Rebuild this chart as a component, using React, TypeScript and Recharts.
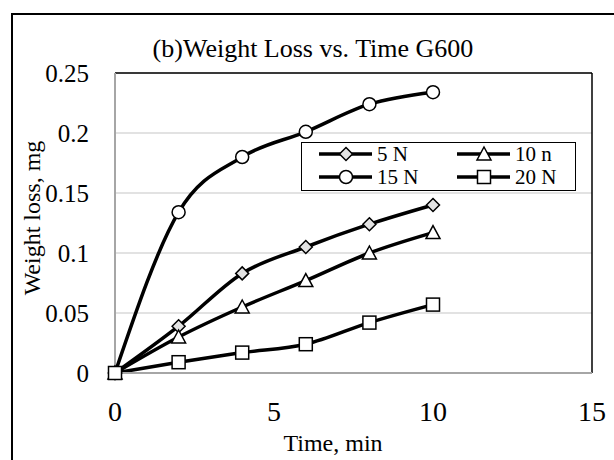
import React from "react";
import {
  LineChart,
  Line,
  XAxis,
  YAxis,
  CartesianGrid,
  Legend,
  ReferenceLine,
} from "recharts";

// time in minutes, weight loss in mg
const times = [0, 2, 4, 6, 8, 10];
const load5N = [0, 0.039, 0.083, 0.105, 0.124, 0.14];
const load10n = [0, 0.03, 0.055, 0.077, 0.1, 0.117];
const load15N = [0, 0.134, 0.18, 0.201, 0.224, 0.234];
const load20N = [0, 0.009, 0.017, 0.024, 0.042, 0.057];

const xTicks = [0, 5, 10, 15];
const yTicks = [0, 0.05, 0.1, 0.15, 0.2, 0.25];

const series = [
  { key: "n5", name: "5 N", values: load5N, marker: "diamond" },
  { key: "n10", name: "10 n", values: load10n, marker: "triangle" },
  { key: "n15", name: "15 N", values: load15N, marker: "circle" },
  { key: "n20", name: "20 N", values: load20N, marker: "square" },
];

const data = times.map((t, i) => {
  const row: Record<string, number> = { time: t };
  series.forEach((s) => {
    row[s.key] = s.values[i];
  });
  return row;
});

const FONT = "'Liberation Serif', 'Times New Roman', serif";

function Marker({ shape, cx, cy }: { shape: string; cx: number; cy: number }) {
  const st = { stroke: "#000", strokeWidth: 1.5 };
  if (shape === "diamond") {
    const r = 6.5;
    return (
      <polygon
        points={`${cx},${cy - r} ${cx + r},${cy} ${cx},${cy + r} ${cx - r},${cy}`}
        fill="#e3e3e3"
        {...st}
      />
    );
  }
  if (shape === "triangle") {
    return (
      <polygon
        points={`${cx},${cy - 7} ${cx + 7},${cy + 6} ${cx - 7},${cy + 6}`}
        fill="#fff"
        {...st}
      />
    );
  }
  if (shape === "circle") {
    return <circle cx={cx} cy={cy} r={6.5} fill="#fff" {...st} />;
  }
  return <rect x={cx - 6.5} y={cy - 6.5} width={13} height={13} fill="#fff" {...st} />;
}

function LegendBox() {
  return (
    <div
      style={{
        width: 275,
        height: 49,
        boxSizing: "border-box",
        border: "1.5px solid #000",
        background: "#fff",
      }}
    >
      <svg width={272} height={46} style={{ display: "block" }}>
        {series.map((s, i) => {
          const col = i % 2;
          const row = Math.floor(i / 2);
          const x0 = col ? 155 : 17;
          const y = row ? 34 : 11;
          return (
            <g key={s.key}>
              <line x1={x0} x2={x0 + 53} y1={y} y2={y} stroke="#000" strokeWidth={3.5} />
              <Marker shape={s.marker} cx={x0 + 27} cy={y} />
              <text x={x0 + 58} y={y + 7} fontFamily={FONT} fontSize={21} fill="#000">
                {s.name}
              </text>
            </g>
          );
        })}
      </svg>
    </div>
  );
}

export default function App() {
  return (
    <div
      style={{
        position: "absolute",
        left: 0,
        top: 0,
        width: 614,
        height: 460,
        overflow: "hidden",
        background: "#fff",
        fontFamily: FONT,
      }}
    >
      <style>{`.recharts-cartesian-axis-tick-value { font-family: ${FONT}; }`}</style>
      <div
        style={{
          position: "absolute",
          left: 11,
          top: 13,
          width: 700,
          height: 600,
          border: "2px solid #000",
        }}
      />
      <div style={{ position: "absolute", left: 0, top: 0 }}>
        <LineChart
          width={614}
          height={460}
          data={data}
          style={{ fontFamily: FONT }}
          margin={{ top: 73, right: 22, left: 0, bottom: 0 }}
        >
          <CartesianGrid vertical={false} stroke="#d9d9d9" strokeWidth={1.5} />
          <XAxis
            dataKey="time"
            type="number"
            domain={[0, 15]}
            ticks={xTicks}
            height={87}
            tickSize={0}
            tickMargin={28}
            axisLine={{ stroke: "#a6a6a6", strokeWidth: 2 }}
            tick={{ fontSize: 28, fontFamily: FONT, fill: "#000" }}
          />
          <YAxis
            type="number"
            domain={[0, 0.25]}
            ticks={yTicks}
            width={115}
            tickSize={0}
            tickMargin={26}
            axisLine={{ stroke: "#a6a6a6", strokeWidth: 2 }}
            tick={{ fontSize: 25, fontFamily: FONT, fill: "#000" }}
            tickFormatter={(v) => String(v)}
          />
          <ReferenceLine y={0.25} stroke="#000" strokeWidth={1.5} />
          <ReferenceLine x={15} stroke="#000" strokeWidth={1.5} />
          <Legend
            layout="horizontal"
            verticalAlign="middle"
            align="center"
            content={() => <LegendBox />}
            wrapperStyle={{ left: 301, top: 142, width: 276, height: 50 }}
          />
          {series.map((s) => (
            <Line
              key={s.key}
              dataKey={s.key}
              name={s.name}
              type="monotone"
              stroke="#000"
              strokeWidth={3.5}
              isAnimationActive={false}
              dot={(p: any) => (
                <Marker key={`${s.key}-${p.index}`} shape={s.marker} cx={p.cx} cy={p.cy} />
              )}
              activeDot={false}
            />
          ))}
        </LineChart>
      </div>
      <svg
        width={614}
        height={460}
        style={{ position: "absolute", left: 0, top: 0, pointerEvents: "none" }}
      >
        <text x={313} y={57} textAnchor="middle" fontFamily={FONT} fontSize={26} fill="#000">
          (b)Weight Loss vs. Time G600
        </text>
        <text
          x={40}
          y={218}
          transform="rotate(-90 40 218)"
          textAnchor="middle"
          fontFamily={FONT}
          fontSize={24}
          fill="#000"
        >
          Weight loss, mg
        </text>
        <text x={333} y={451} textAnchor="middle" fontFamily={FONT} fontSize={24} fill="#000">
          Time, min
        </text>
      </svg>
    </div>
  );
}
